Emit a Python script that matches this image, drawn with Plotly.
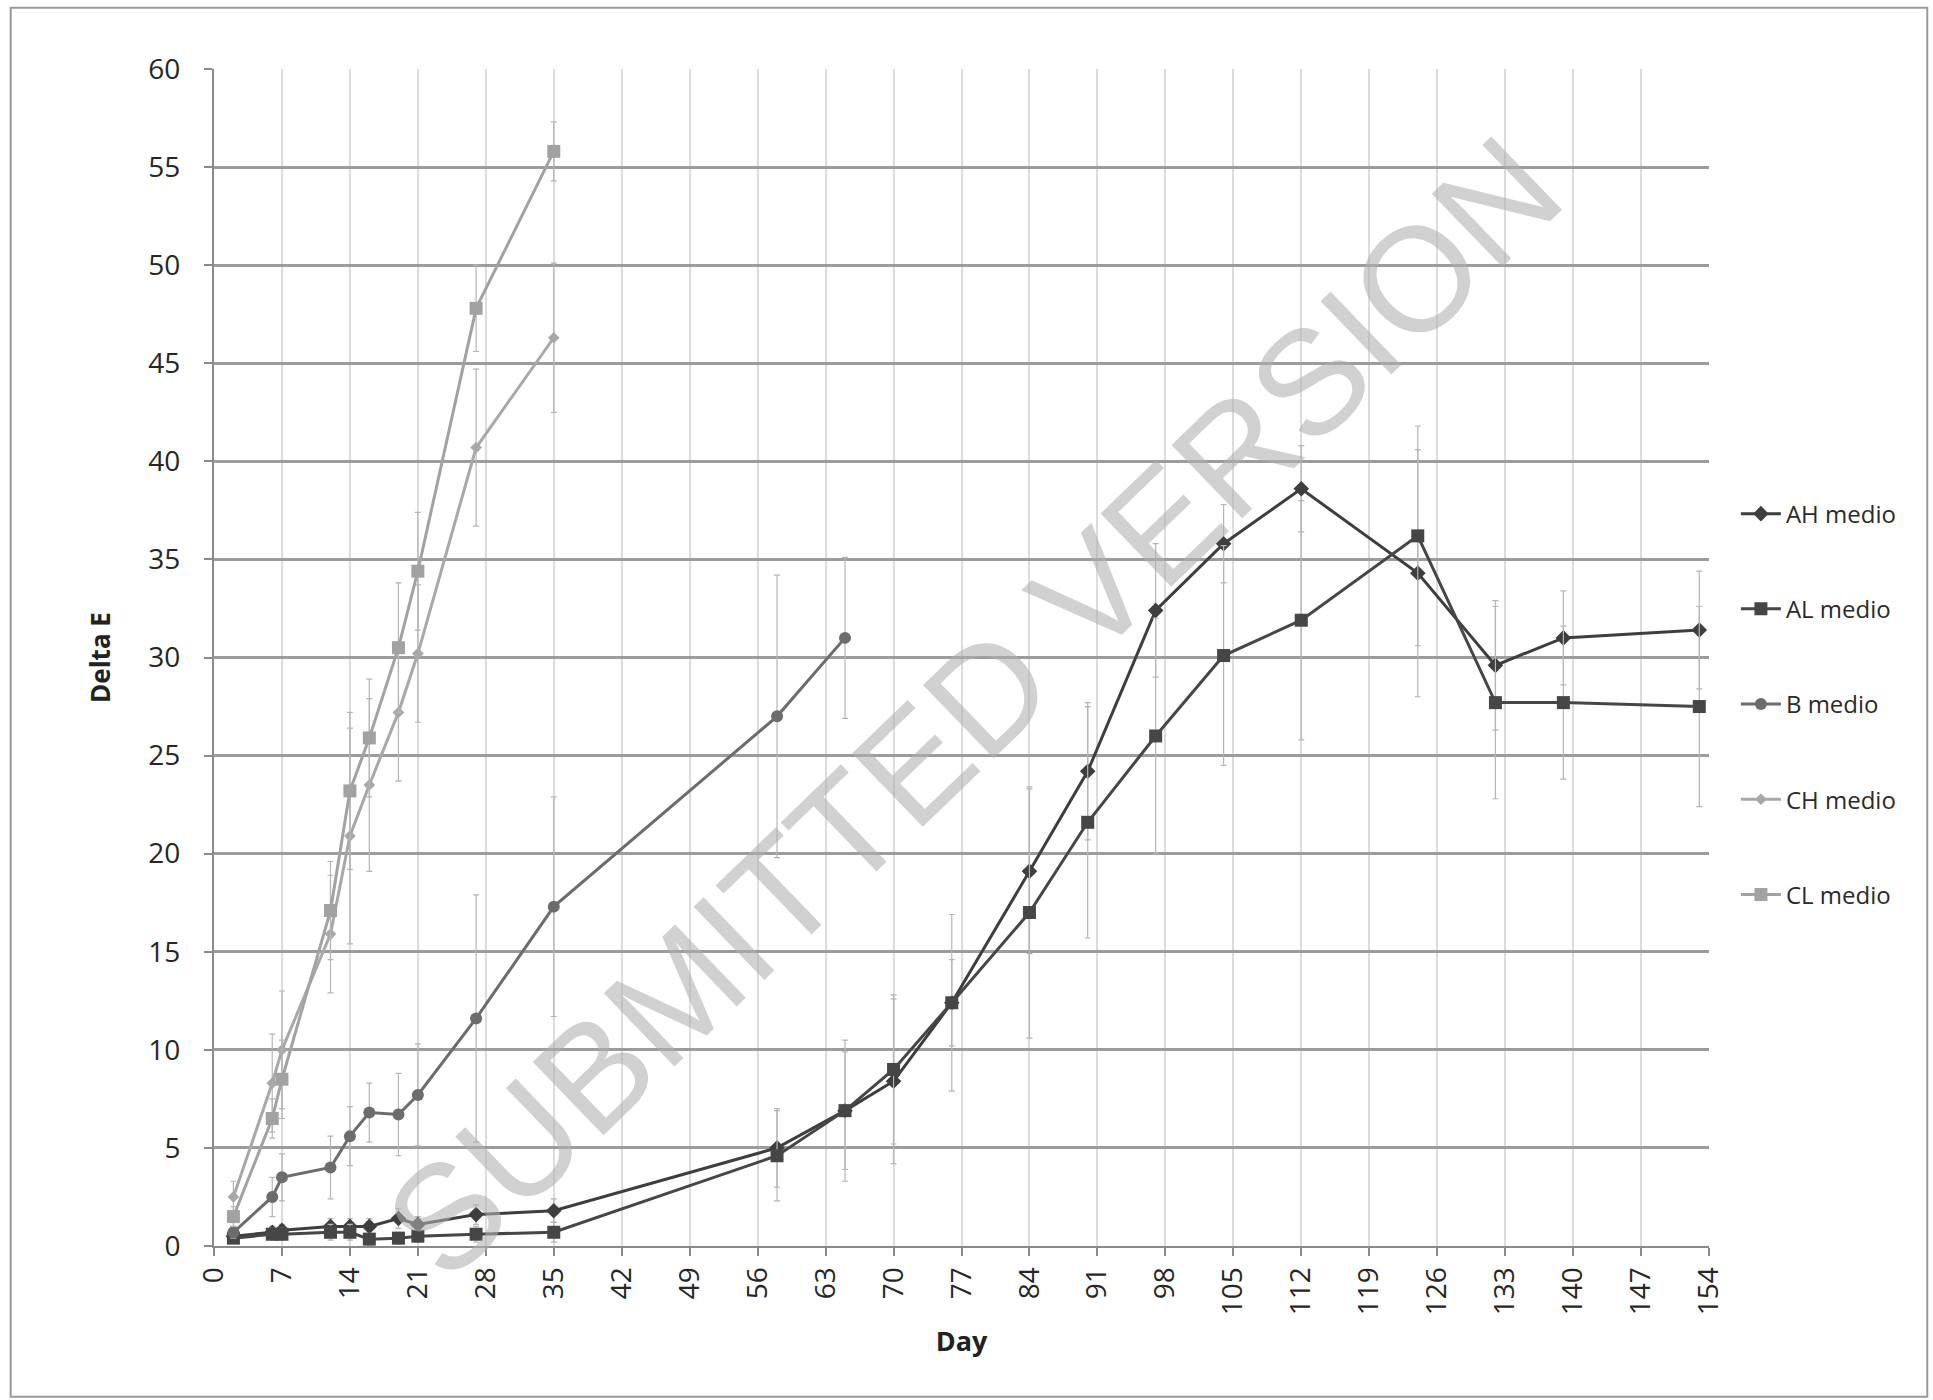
import plotly.graph_objects as go

# ---- data ----
days_early = [2, 6, 7, 12, 14, 16, 19, 21, 27, 35]
days_late = [58, 65, 70, 76, 84, 90, 97, 104, 112, 124, 132, 139, 153]
days_B_late = [58, 65]

AH_days = days_early + days_late
AH_vals = [0.5, 0.7, 0.8, 1.0, 1.0, 1.0, 1.4, 1.1, 1.6, 1.8,
           5.0, 6.9, 8.4, 12.4, 19.1, 24.2, 32.4, 35.8, 38.6, 34.3, 29.6, 31.0, 31.4]
AH_err = [0.2, 0.3, 0.3, 0.4, 0.4, 0.4, 0.5, 0.4, 0.5, 0.6,
          2.0, 3.6, 4.2, 2.2, 4.2, 3.5, 3.4, 2.0, 2.2, 6.3, 3.3, 2.4, 3.0]

AL_days = days_early + days_late
AL_vals = [0.4, 0.6, 0.6, 0.7, 0.7, 0.35, 0.4, 0.5, 0.6, 0.7,
           4.6, 6.9, 9.0, 12.4, 17.0, 21.6, 26.0, 30.1, 31.9, 36.2, 27.7, 27.7, 27.5]
AL_err = [0.2, 0.3, 0.3, 0.4, 0.4, 0.3, 0.3, 0.3, 0.4, 0.5,
          2.3, 3.0, 3.8, 4.5, 6.4, 5.9, 6.0, 5.6, 6.1, 5.6, 4.9, 3.9, 5.1]

B_days = days_early + days_B_late
B_vals = [0.7, 2.5, 3.5, 4.0, 5.6, 6.8, 6.7, 7.7, 11.6, 17.3, 27.0, 31.0]
B_err = [0.3, 1.0, 1.2, 1.6, 1.5, 1.5, 2.1, 2.6, 6.3, 5.6, 7.2, 4.1]

CH_days = days_early
CH_vals = [2.5, 8.3, 10.0, 15.9, 20.9, 23.5, 27.2, 30.2, 40.7, 46.3]
CH_err = [0.8, 2.5, 3.0, 3.0, 5.5, 4.4, 3.5, 3.5, 4.0, 3.8]

CL_days = days_early
CL_vals = [1.5, 6.5, 8.5, 17.1, 23.2, 25.9, 30.5, 34.4, 47.8, 55.8]
CL_err = [0.5, 1.0, 2.0, 2.5, 4.0, 3.0, 3.3, 3.0, 2.2, 1.5]

series = [
    ("AH medio", AH_days, AH_vals, AH_err, "#3e3e3e", "diamond", 12),
    ("AL medio", AL_days, AL_vals, AL_err, "#464646", "square", 13),
    ("B medio", B_days, B_vals, B_err, "#6c6c6c", "circle", 12),
    ("CH medio", CH_days, CH_vals, CH_err, "#a8a8a8", "diamond", 9),
    ("CL medio", CL_days, CL_vals, CL_err, "#a2a2a2", "square", 13),
]

x_ticks = list(range(0, 155, 7))

fig = go.Figure()
for name, xs, ys, es, col, sym, sz in series:
    fig.add_trace(go.Scatter(
        x=xs, y=ys, name=name, mode="lines+markers", legendgroup=name,
        line=dict(color=col, width=3),
        marker=dict(symbol=sym, size=sz, color=col),
        error_y=dict(type="data", array=es, visible=True, color="#b5b5b5",
                     thickness=1.2, width=3),
    ))

font_fam = "Open Sans, Liberation Sans, sans-serif"

fig.update_layout(
    width=1933, height=1400,
    margin=dict(l=214, r=224, t=69, b=154),
    paper_bgcolor="white", plot_bgcolor="white",
    font=dict(family=font_fam, color="#222222", size=24),
    showlegend=True,
    legend=dict(x=1.018, y=0.641, xanchor="left", yanchor="top",
                font=dict(size=24, color="#2a2a2a"),
                tracegroupgap=61, itemwidth=40,
                bgcolor="rgba(0,0,0,0)"),
    xaxis=dict(range=[0, 154], tickvals=x_ticks, ticktext=[str(v) for v in x_ticks],
               tickangle=-90, showgrid=True, gridcolor="#dcdcdc", gridwidth=1.5,
               showline=True, linecolor="#8a8a8a", linewidth=2,
               ticks="outside", ticklen=8, tickcolor="#8a8a8a", tickwidth=2,
               tickfont=dict(size=28, color="#262626"), zeroline=False,
               title=dict(text="<b>Day</b>", font=dict(size=27, color="#222222"),
                          standoff=18)),
    yaxis=dict(range=[0, 60], dtick=5, showgrid=True, gridcolor="#9c9c9c",
               gridwidth=2.5, showline=True, linecolor="#8a8a8a", linewidth=2,
               ticks="outside", ticklen=8, tickcolor="#8a8a8a", tickwidth=2,
               tickfont=dict(size=28, color="#262626"), zeroline=False,
               ticklabelstandoff=18,
               title=dict(text="<b>Delta E</b>", font=dict(size=26, color="#222222"),
                          standoff=30)),
    shapes=[dict(type="rect", xref="paper", yref="paper",
                 x0=-0.136, x1=1.146, y0=-0.128, y1=1.052,
                 line=dict(color="#9a9a9a", width=2), fillcolor="rgba(0,0,0,0)",
                 layer="below")],
    annotations=[dict(text="SUBMITTED VERSION", xref="paper", yref="paper",
                      x=0.508, y=0.458, showarrow=False, textangle=-44,
                      font=dict(family="Liberation Sans, Arial, sans-serif",
                                size=148, color="rgba(175,175,175,0.58)"))],
)

fig.write_html("out.html")
